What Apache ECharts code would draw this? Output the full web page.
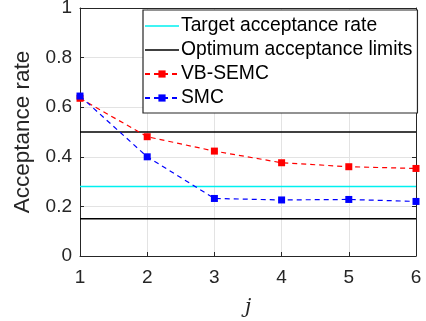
<!DOCTYPE html>
<html><head><meta charset="utf-8">
<script src="https://cdn.jsdelivr.net/npm/echarts@6/dist/echarts.min.js"></script>
<style>html,body{margin:0;padding:0;background:#fff}#c{width:426px;height:321px}</style>
</head><body><div id="c"></div>
<script>
const steps = [1, 2, 3, 4, 5, 6];
const vbsemc = [0.636, 0.481, 0.423, 0.376, 0.360, 0.353];
const smc = [0.645, 0.400, 0.232, 0.226, 0.228, 0.220];
const targetRate = 0.28;
const optimumLimits = [0.5, 0.15];
const yTicks = [0, 0.2, 0.4, 0.6, 0.8, 1];
const xRange = [steps[0], steps[steps.length - 1]];

const font = 'Liberation Sans';
const hline = (v) => xRange.map(x => [x, v]);
const lineIcon = 'path://M0,0L34,0L34,1.6L0,1.6Z';

const chart = echarts.init(document.getElementById('c'), null, {renderer: 'canvas'});
chart.setOption({
  animation: false,
  backgroundColor: '#fff',
  grid: {left: 80, right: 10, top: 8, bottom: 65, containLabel: false, outerBoundsMode: 'none'},
  xAxis: [{
    type: 'value', min: 1, max: 6, interval: 1,
    axisLine: {show: true, onZero: false, lineStyle: {color: '#262626', width: 1}},
    axisTick: {show: true, inside: true, length: 4, lineStyle: {color: '#262626'}},
    axisLabel: {color: '#262626', fontSize: 19, fontFamily: font, margin: 12},
    splitLine: {show: true, lineStyle: {color: '#e3e3e3', width: 1}},
    name: 'j', nameLocation: 'middle', nameGap: 42,
    nameTextStyle: {fontFamily: 'DejaVu Serif', fontStyle: 'italic', fontSize: 20, color: '#262626'}
  }, {
    type: 'value', position: 'top', min: 1, max: 6, interval: 1,
    axisLine: {show: true, onZero: false, lineStyle: {color: '#262626', width: 1}},
    axisTick: {show: false}, axisLabel: {show: false}, splitLine: {show: false}
  }],
  yAxis: [{
    type: 'value', min: yTicks[0], max: yTicks[yTicks.length - 1], interval: 0.2,
    axisLine: {show: true, onZero: false, lineStyle: {color: '#262626', width: 1}},
    axisTick: {show: true, inside: true, length: 4, lineStyle: {color: '#262626'}},
    axisLabel: {color: '#262626', fontSize: 19, fontFamily: font, margin: 8},
    splitLine: {show: true, lineStyle: {color: '#e3e3e3', width: 1}},
    name: 'Acceptance rate', nameLocation: 'middle', nameGap: 38,
    nameTextStyle: {fontFamily: font, fontSize: 22.5, color: '#262626'}
  }, {
    type: 'value', position: 'right', min: 0, max: 1, interval: 0.2,
    axisLine: {show: true, onZero: false, lineStyle: {color: '#262626', width: 1}},
    axisTick: {show: true, inside: true, length: 4, lineStyle: {color: '#262626'}},
    axisLabel: {show: false}, splitLine: {show: false}
  }],
  legend: {
    orient: 'vertical', left: 143, top: 10,
    backgroundColor: '#fff', borderColor: '#262626', borderWidth: 1.2,
    padding: [5, 5, 4, 1],
    itemWidth: 34, itemHeight: 9, itemGap: 2,
    symbolKeepAspect: true,
    textStyle: {fontFamily: font, fontSize: 19.3, color: '#000', padding: [0, 0, 0, -3], lineHeight: 22},
    data: [
      {name: 'Target acceptance rate', icon: lineIcon},
      {name: 'Optimum acceptance limits', icon: lineIcon},
      'VB-SEMC', 'SMC'
    ]
  },
  series: [
    {name: 'Target acceptance rate', type: 'line', data: hline(targetRate), symbol: 'none',
     lineStyle: {color: '#00f0f0', width: 1.5}, itemStyle: {color: '#00f0f0'}, z: 3},
    {name: 'Optimum acceptance limits', type: 'line', data: hline(optimumLimits[0]), symbol: 'none',
     lineStyle: {color: '#000', width: 1.5}, itemStyle: {color: '#000'}, z: 3},
    {name: 'Optimum acceptance limits', type: 'line', data: hline(optimumLimits[1]), symbol: 'none',
     lineStyle: {color: '#000', width: 1.5}, itemStyle: {color: '#000'}, z: 3},
    {name: 'VB-SEMC', type: 'line', data: steps.map((s, i) => [s, vbsemc[i]]),
     symbol: 'rect', symbolSize: 7, showAllSymbol: true,
     lineStyle: {color: '#ff0000', width: 1.2, type: [5, 4]}, itemStyle: {color: '#ff0000'}, z: 4},
    {name: 'SMC', type: 'line', data: steps.map((s, i) => [s, smc[i]]),
     symbol: 'rect', symbolSize: 7, showAllSymbol: true,
     lineStyle: {color: '#0000ff', width: 1.2, type: [5, 4]}, itemStyle: {color: '#0000ff'}, z: 5}
  ]
});
</script></body></html>
